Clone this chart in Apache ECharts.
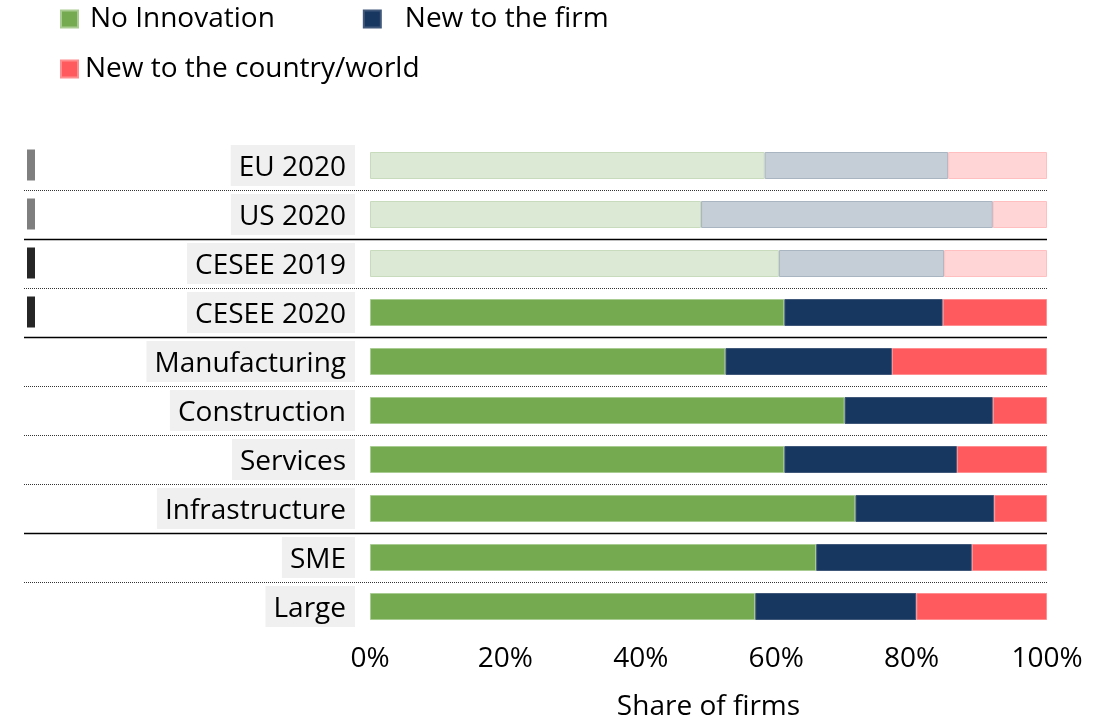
<!DOCTYPE html>
<html>
<head>
<meta charset="utf-8">
<script src="https://cdn.jsdelivr.net/npm/echarts@6/dist/echarts.min.js"></script>
<style>
  html, body { margin: 0; padding: 0; background: #fff; }
  #chart { width: 1109px; height: 720px; }
</style>
</head>
<body>
<div id="chart"></div>
<script>
// ---- data ----
const categories = ['EU 2020', 'US 2020', 'CESEE 2019', 'CESEE 2020', 'Manufacturing', 'Construction', 'Services', 'Infrastructure', 'SME', 'Large'];
const noInnovation = [58.3, 48.9, 60.4, 61.2, 52.5, 70.1, 61.2, 71.7, 65.9, 56.9];
const newToFirm    = [27.1, 43.1, 24.4, 23.4, 24.6, 21.9, 25.5, 20.5, 23.0, 23.8];
const newToCountry = [14.6,  8.0, 15.2, 15.4, 22.9,  8.0, 13.3,  7.8, 11.1, 19.3];
const seriesNames = ['No Innovation', 'New to the firm', 'New to the country/world'];
const xTicks = [0, 20, 40, 60, 80, 100];
const fadedRows = [0, 1, 2];
// ---- styling ----
const FONT = 'Open Sans';
const FS = 28;
const colors = ['#75AA50', '#183760', '#FF5A5E'];
const borders = ['#A9CC92', '#40597A', '#FF8E90'];
const fadedColors = ['#DCE9D5', '#C5CDD7', '#FFD5D6'];
const fadedBorders = ['#C8DCBD', '#AAB5C2', '#FFBFC1'];
const separatorKinds = ['dotted', 'solid', 'dotted', 'solid', 'dotted', 'dotted', 'dotted', 'solid', 'dotted'];
const sideMarkColors = ['#7F7F7F', '#7F7F7F', '#262626', '#262626'];

const chart = echarts.init(document.getElementById('chart'), null, { renderer: 'canvas' });

function makeSeries(idx, values) {
  return {
    name: seriesNames[idx],
    type: 'bar',
    stack: 'total',
    barWidth: 27,
    itemStyle: { color: colors[idx], borderColor: borders[idx], borderWidth: 1 },
    emphasis: { disabled: true },
    data: values.map((v, i) => fadedRows.includes(i)
      ? { value: v, itemStyle: { color: fadedColors[idx], borderColor: fadedBorders[idx], borderWidth: 1 } }
      : v)
  };
}

const legendText = { fontFamily: FONT, fontSize: FS, color: '#000' };
const option = {
  animation: false,
  textStyle: { fontFamily: FONT },
  legend: [
    {
      data: [
        { name: seriesNames[0], textStyle: Object.assign({}, legendText, { padding: [0, 0, 0, 7] }) },
        { name: seriesNames[1], textStyle: Object.assign({}, legendText, { padding: [0, 0, 0, 19] }) }
      ],
      left: 55, top: 0,
      itemWidth: 17, itemHeight: 17, itemGap: 88,
      icon: 'rect',
      textStyle: legendText
    },
    {
      data: [{ name: seriesNames[2], textStyle: Object.assign({}, legendText, { padding: [0, 0, 0, 2] }) }],
      left: 55, top: 50,
      itemWidth: 17, itemHeight: 17,
      icon: 'rect',
      textStyle: legendText
    }
  ],
  grid: { left: 370, right: 62, top: 141, bottom: 89, outerBoundsMode: 'none', containLabel: false },
  xAxis: {
    type: 'value',
    min: xTicks[0], max: xTicks[xTicks.length - 1], interval: xTicks[1] - xTicks[0],
    axisLine: { show: false }, axisTick: { show: false }, splitLine: { show: false },
    axisLabel: { formatter: '{value}%', fontFamily: FONT, fontSize: FS, color: '#000', margin: 14 },
    name: 'Share of firms', nameLocation: 'middle', nameGap: 62,
    nameTextStyle: { fontFamily: FONT, fontSize: FS, color: '#000' }
  },
  yAxis: {
    type: 'category',
    data: categories,
    inverse: true,
    axisLine: { show: false }, axisTick: { show: false }, splitLine: { show: false },
    axisLabel: {
      formatter: '{t|{value}}',
      fontFamily: FONT, fontSize: FS, color: '#000', margin: 15,
      backgroundColor: '#F0F0F0', padding: [6, 9, 6, 8],
      rich: { t: { fontFamily: FONT, fontSize: FS, color: '#000', lineHeight: 29, padding: [6, 0, 0, 0] } }
    }
  },
  series: [
    makeSeries(0, noInnovation),
    makeSeries(1, newToFirm),
    makeSeries(2, newToCountry)
  ]
};
chart.setOption(option);

// decorative separators and side markers, positioned from the category axis
const centers = categories.map((c, i) => chart.convertToPixel({ yAxisIndex: 0 }, i));
const xEnd = chart.convertToPixel({ xAxisIndex: 0 }, xTicks[xTicks.length - 1]);
const graphics = [];
separatorKinds.forEach((kind, i) => {
  const y = Math.round((centers[i] + centers[i + 1]) / 2) + 0.5;
  graphics.push({
    type: 'line', z: 0,
    shape: { x1: 24, y1: y, x2: xEnd, y2: y },
    style: kind === 'solid'
      ? { stroke: '#000', lineWidth: 1.5 }
      : { stroke: '#333', lineWidth: 1, lineDash: [1, 1] }
  });
});
sideMarkColors.forEach((c, i) => {
  graphics.push({
    type: 'rect', z: 5,
    shape: { x: 27, y: centers[i] - 16, width: 8, height: 31 },
    style: { fill: c }
  });
});
chart.setOption({ graphic: graphics });
</script>
</body>
</html>
